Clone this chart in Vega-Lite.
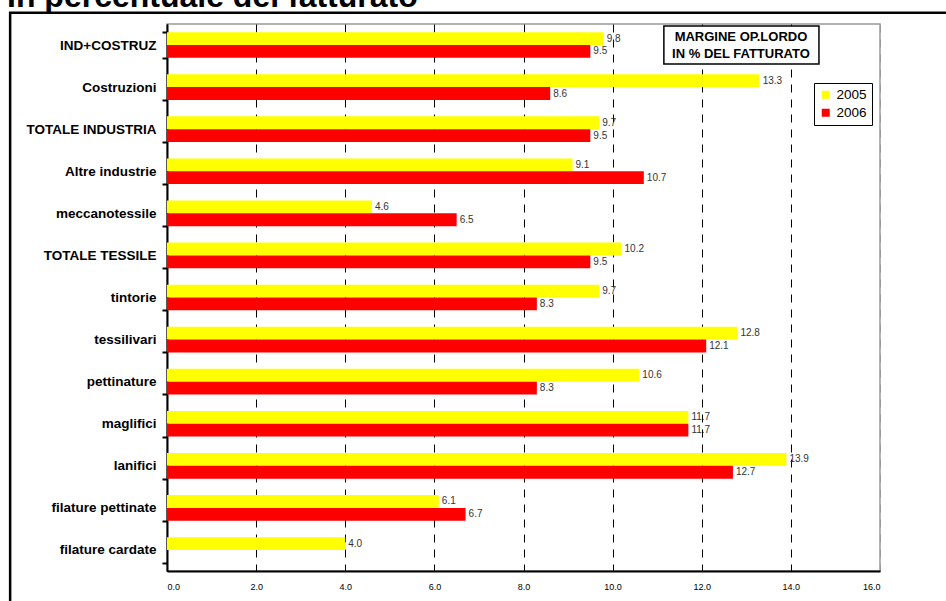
{
  "$schema": "https://vega.github.io/schema/vega-lite/v6.json",
  "autosize": "none",
  "padding": {"left": 167, "top": 24, "right": 66, "bottom": 30},
  "width": 713,
  "height": 547,
  "background": "white",
  "title": {
    "text": "In percentuale del fatturato",
    "anchor": "start",
    "frame": "group",
    "dx": -160,
    "offset": -28,
    "baseline": "alphabetic",
    "fontSize": 32,
    "fontWeight": "bold",
    "font": "Liberation Sans",
    "color": "black"
  },
  "config": {
    "font": "Liberation Sans",
    "view": {"stroke": "#9a9a9a", "strokeWidth": 1.5}
  },
  "datasets": {
    "margini": [
      {"settore": "IND+COSTRUZ", "anno": "2005", "valore": 9.8},
      {"settore": "IND+COSTRUZ", "anno": "2006", "valore": 9.5},
      {"settore": "Costruzioni", "anno": "2005", "valore": 13.3},
      {"settore": "Costruzioni", "anno": "2006", "valore": 8.6},
      {"settore": "TOTALE INDUSTRIA", "anno": "2005", "valore": 9.7},
      {"settore": "TOTALE INDUSTRIA", "anno": "2006", "valore": 9.5},
      {"settore": "Altre industrie", "anno": "2005", "valore": 9.1},
      {"settore": "Altre industrie", "anno": "2006", "valore": 10.7},
      {"settore": "meccanotessile", "anno": "2005", "valore": 4.6},
      {"settore": "meccanotessile", "anno": "2006", "valore": 6.5},
      {"settore": "TOTALE TESSILE", "anno": "2005", "valore": 10.2},
      {"settore": "TOTALE TESSILE", "anno": "2006", "valore": 9.5},
      {"settore": "tintorie", "anno": "2005", "valore": 9.7},
      {"settore": "tintorie", "anno": "2006", "valore": 8.3},
      {"settore": "tessilivari", "anno": "2005", "valore": 12.8},
      {"settore": "tessilivari", "anno": "2006", "valore": 12.1},
      {"settore": "pettinature", "anno": "2005", "valore": 10.6},
      {"settore": "pettinature", "anno": "2006", "valore": 8.3},
      {"settore": "maglifici", "anno": "2005", "valore": 11.7},
      {"settore": "maglifici", "anno": "2006", "valore": 11.7},
      {"settore": "lanifici", "anno": "2005", "valore": 13.9},
      {"settore": "lanifici", "anno": "2006", "valore": 12.7},
      {"settore": "filature pettinate", "anno": "2005", "valore": 6.1},
      {"settore": "filature pettinate", "anno": "2006", "valore": 6.7},
      {"settore": "filature cardate", "anno": "2005", "valore": 4.0}
    ],
    "riquadro": [
      {"settore": "IND+COSTRUZ", "da": 11.15, "a": 14.63, "centro": 12.88, "testo": ["MARGINE OP.LORDO", "IN % DEL FATTURATO"]}
    ],
    "cornice": [
      {"sinistra": -3.52, "destra": 18.5, "alto": 13.27, "basso": -1.5}
    ]
  },
  "resolve": {"scale": {"y": "independent"}},
  "layer": [
    {
      "data": {"name": "cornice"},
      "mark": {"type": "rect", "fill": null, "stroke": "black", "strokeWidth": 2.5, "clip": false},
      "encoding": {
        "x": {"field": "sinistra", "type": "quantitative", "scale": {"domain": [0, 16], "nice": false}},
        "x2": {"field": "destra"},
        "y": {"field": "alto", "type": "quantitative", "scale": {"domain": [0, 13], "nice": false, "zero": false}, "axis": null},
        "y2": {"field": "basso"}
      }
    },
    {
      "layer": [
        {
          "data": {"name": "margini"},
          "mark": {"type": "bar"},
          "encoding": {
            "x": {
              "field": "valore",
              "type": "quantitative",
              "scale": {"domain": [0, 16], "nice": false},
              "axis": {
                "title": null,
                "values": [0, 2, 4, 6, 8, 10, 12, 14, 16],
                "format": ".1f",
                "labelFontSize": 9,
                "labelColor": "black",
                "labelPadding": 11,
                "ticks": false,
                "domainColor": "black",
                "domainWidth": 2,
                "grid": true,
                "gridColor": {"condition": {"test": "datum.value == 16", "value": "#9a9a9a"}, "value": "black"},
                "gridDash": [8, 7],
                "gridWidth": 1
              }
            },
            "y": {
              "field": "settore",
              "type": "nominal",
              "sort": null,
              "scale": {"paddingInner": 0.39, "paddingOuter": 0.195},
              "axis": {
                "title": null,
                "labelFontSize": 13.5,
                "labelFontWeight": "bold",
                "labelColor": "black",
                "labelPadding": 6,
                "tickBand": "extent",
                "tickSize": 5,
                "tickWidth": 2,
                "tickColor": "black",
                "domainColor": "black",
                "domainWidth": 2
              }
            },
            "yOffset": {"field": "anno", "type": "nominal", "scale": {"domain": ["2005", "2006"]}},
            "color": {
              "field": "anno",
              "type": "nominal",
              "scale": {"domain": ["2005", "2006"], "range": ["#FFFF00", "#FF0000"]},
              "legend": {
                "title": null,
                "orient": "none",
                "legendX": 647,
                "legendY": 59,
                "symbolType": "square",
                "symbolSize": 64,
                "symbolStrokeWidth": 0,
                "labelFontSize": 13.5,
                "labelColor": "black",
                "labelOffset": 4,
                "rowPadding": 3,
                "padding": 5,
                "strokeColor": "black",
                "fillColor": "white"
              }
            }
          }
        },
        {
          "data": {"name": "margini"},
          "mark": {"type": "text", "align": "left", "baseline": "middle", "dx": 3, "fontSize": 10, "color": "#333"},
          "encoding": {
            "x": {"field": "valore", "type": "quantitative"},
            "y": {"field": "settore", "type": "nominal", "sort": null},
            "yOffset": {"field": "anno", "type": "nominal", "scale": {"domain": ["2005", "2006"]}},
            "text": {"field": "valore", "type": "quantitative", "format": ".1f"}
          }
        },
        {
          "data": {"name": "riquadro"},
          "mark": {"type": "rect", "fill": "white", "stroke": "black", "strokeWidth": 1.5, "height": {"band": 1.48}},
          "encoding": {
            "x": {"field": "da", "type": "quantitative"},
            "x2": {"field": "a"},
            "y": {"field": "settore", "type": "nominal", "sort": null}
          }
        },
        {
          "data": {"name": "riquadro"},
          "mark": {"type": "text", "align": "center", "baseline": "middle", "dy": -8.5, "fontSize": 13, "fontWeight": "bold", "lineHeight": 17, "color": "black"},
          "encoding": {
            "x": {"field": "centro", "type": "quantitative"},
            "y": {"field": "settore", "type": "nominal", "sort": null},
            "text": {"field": "testo"}
          }
        }
      ]
    }
  ]
}
